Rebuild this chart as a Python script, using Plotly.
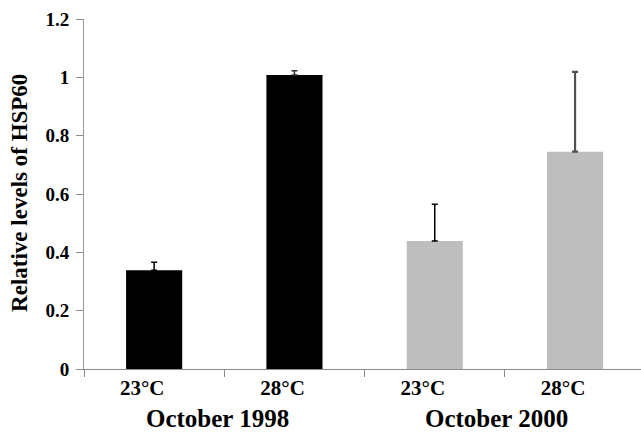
import plotly.graph_objects as go

# Data
groups = ["October 1998", "October 2000"]
temps = ["23°C", "28°C", "23°C", "28°C"]
values = [0.339, 1.008, 0.439, 0.745]
errors = [0.027, 0.015, 0.126, 0.274]
bar_colors = ["#000000", "#000000", "#bebebe", "#bebebe"]
err_colors = ["#000000", "#303030", "#000000", "#505050"]
err_widths = [1.5, 1.5, 1.5, 2.2]
y_ticks = [0, 0.2, 0.4, 0.6, 0.8, 1, 1.2]
y_ticktext = ["0", "0.2", "0.4", "0.6", "0.8", "1", "1.2"]

FONT = "Liberation Serif"
xs = list(range(len(values)))
label_shift = -0.085  # tick labels sit slightly left of bar centres

fig = go.Figure()
for i in xs:
    fig.add_trace(go.Bar(
        x=[xs[i]], y=[values[i]], width=0.4,
        marker=dict(color=bar_colors[i], line=dict(width=0)),
        error_y=dict(type="data", symmetric=False, array=[errors[i]], arrayminus=[0],
                     color=err_colors[i], thickness=err_widths[i], width=3),
        showlegend=False,
    ))

fig.update_layout(
    width=641, height=438,
    margin=dict(l=84, r=0, t=19, b=69),
    paper_bgcolor="white", plot_bgcolor="white",
    barmode="overlay",
    font=dict(family=FONT, color="black"),
)

fig.update_xaxes(
    range=[-0.5, 3.47],
    tickmode="array", tickvals=[x + label_shift for x in xs], ticktext=temps,
    ticks="", showgrid=False, zeroline=False,
    showline=True, linecolor="#8a8a8a", linewidth=1,
    tickfont=dict(family=FONT, size=21, weight="bold", color="black"),
    minor=dict(tickmode="array", tickvals=[-0.5, 0.5, 1.5, 2.5, 3.5],
               ticks="outside", ticklen=7, tickcolor="#8a8a8a", tickwidth=1, showgrid=False),
)
fig.update_yaxes(
    range=[0, 1.2],
    tickmode="array", tickvals=y_ticks, ticktext=y_ticktext,
    ticks="outside", ticklen=7, tickcolor="#8a8a8a", tickwidth=1,
    showgrid=False, zeroline=False,
    showline=True, linecolor="#9a9a9a", linewidth=1,
    tickfont=dict(family=FONT, size=19, weight="bold", color="black"),
    ticklabelstandoff=3,
)

group_x = [0.45, 2.44]
for gx, g in zip(group_x, groups):
    fig.add_annotation(x=gx, xref="x", y=-0.14, yref="paper", text=g,
                       showarrow=False, yanchor="middle",
                       font=dict(family=FONT, size=25, weight="bold", color="black"))

fig.add_annotation(x=-0.115, xref="paper", y=0.503, yref="paper",
                   text="Relative levels of HSP60", textangle=-90, showarrow=False,
                   xanchor="center", yanchor="middle",
                   font=dict(family=FONT, size=23, weight="bold", color="black"))

fig.write_html("out.html", config={"displayModeBar": False},
               post_script="document.body.style.margin='0';document.body.style.overflow='hidden';")
